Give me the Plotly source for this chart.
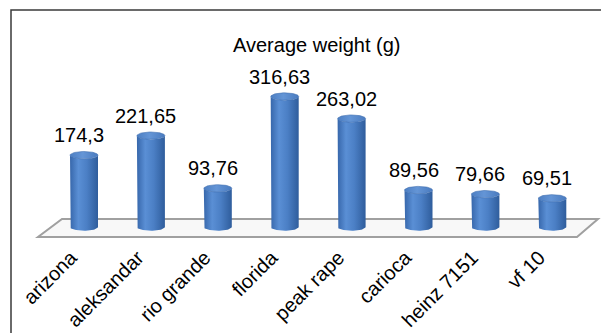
import numpy as np
import plotly.graph_objects as go

# Tomato varieties and their average fruit weight (g)
categories = ["arizona", "aleksandar", "rio grande", "florida",
              "peak rape", "carioca", "heinz 7151", "vf 10"]
weights = [174.3, 221.65, 93.76, 316.63, 263.02, 89.56, 79.66, 69.51]
chart_title = "Average weight (g)"

FONT = "Liberation Sans, Arial, sans-serif"
W, H = 601, 333
PLOT_BOTTOM = 245          # pixel row of the category axis
PX_PER_CAT = 66.9          # horizontal spacing between cylinders
PX_PER_UNIT = 0.412        # vertical pixels per gram
FIRST_PX = 84              # centre of the first cylinder
BASE_PX = 227              # centre of the cylinder base ellipses

x_range = [-FIRST_PX / PX_PER_CAT, (W - FIRST_PX) / PX_PER_CAT]
y_range = [(BASE_PX - PLOT_BOTTOM) / PX_PER_UNIT, BASE_PX / PX_PER_UNIT]

rx = 14 / PX_PER_CAT       # cylinder radius (x units)
ry = 3.7 / PX_PER_UNIT     # ellipse half-height (y units)

body_scale = [[0.0, "#3767ab"], [0.3, "#5a8fd5"], [0.6, "#4b7fc5"],
              [1.0, "#2f5d9c"]]
cap_scale = [[0.0, "#4d7fc3"], [0.45, "#6495d6"], [1.0, "#4a7bbf"]]

fig = go.Figure()


def to_x(px):
    return (px - FIRST_PX) / PX_PER_CAT


def to_y(py):
    return (BASE_PX - py) / PX_PER_UNIT


# Floor of the 3-D plot area
floor = [(38, 237), (577, 237), (598, 219), (62, 219)]
floor_path = "M " + " L ".join(f"{to_x(a)},{to_y(b)}" for a, b in floor) + " Z"
fig.add_shape(type="path", path=floor_path, xref="x", yref="y",
              line=dict(color="#a0a0a0", width=2), fillcolor="#f8f8f8",
              layer="below")

t_low = np.linspace(np.pi, 2 * np.pi, 40)
t_full = np.linspace(0, 2 * np.pi, 80)

for i, (name, v) in enumerate(zip(categories, weights)):
    c = i
    # cylinder body: side walls plus the front halves of both rims
    bx = np.concatenate([[c - rx, c - rx], c + rx * np.cos(t_low),
                         [c + rx], (c + rx * np.cos(t_low))[::-1]])
    by = np.concatenate([[v, 0], ry * np.sin(t_low),
                         [v], (v + ry * np.sin(t_low))[::-1]])
    fig.add_trace(go.Scatter(
        x=bx, y=by, mode="lines", line=dict(width=0), fill="toself",
        fillgradient=dict(type="horizontal", colorscale=body_scale),
        hoverinfo="skip", showlegend=False))
    # top cap
    fig.add_trace(go.Scatter(
        x=c + rx * np.cos(t_full), y=v + ry * np.sin(t_full),
        mode="lines", line=dict(width=0.6, color="#3f6fb0"), fill="toself",
        fillgradient=dict(type="horizontal", colorscale=cap_scale),
        hoverinfo="skip", showlegend=False))
    # value label
    fig.add_annotation(x=c, y=v, text=f"{v:g}".replace(".", ","),
                       showarrow=False, yanchor="bottom", xanchor="center",
                       yshift=7, xshift=-5,
                       font=dict(family=FONT, size=20, color="#000000"))

fig.add_annotation(x=(317 / W), y=1 - 32 / PLOT_BOTTOM, xref="paper",
                   yref="paper", text=chart_title, showarrow=False,
                   font=dict(family=FONT, size=20, color="#000000"))

# Outer chart border
fig.add_shape(type="rect", xref="paper", yref="paper",
              x0=11 / W, x1=1.05, y0=1 - 345 / PLOT_BOTTOM,
              y1=1 - 10 / PLOT_BOTTOM,
              line=dict(color="#3a3a3a", width=1.5), layer="above")

fig.update_xaxes(range=x_range, tickvals=list(range(len(categories))),
                 ticktext=categories, tickangle=-45, showgrid=False,
                 zeroline=False, showline=False, ticks="",
                 ticklabelshift=-13, ticklabelstandoff=-4,
                 tickfont=dict(family=FONT, size=20, color="#000000"),
                 fixedrange=True)
fig.update_yaxes(range=y_range, visible=False, fixedrange=True)

fig.update_layout(width=W, height=H, autosize=False,
                  margin=dict(l=0, r=0, t=0, b=H - PLOT_BOTTOM),
                  paper_bgcolor="#ffffff", plot_bgcolor="#ffffff",
                  font=dict(family=FONT))

fig.write_html("out.html")
